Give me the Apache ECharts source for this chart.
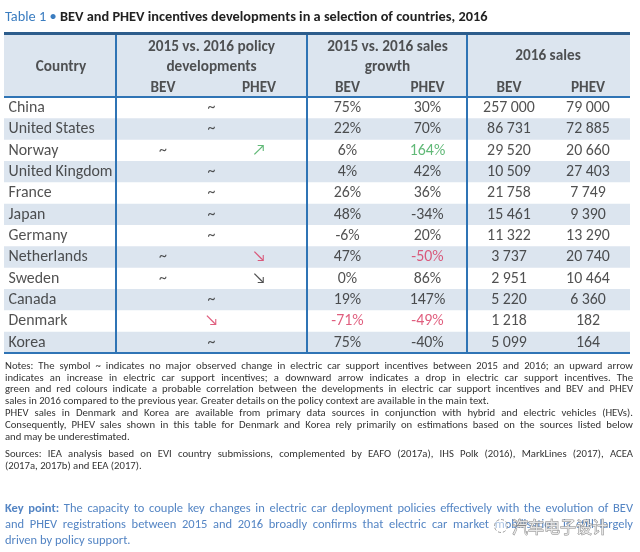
<!DOCTYPE html>
<html><head><meta charset="utf-8">
<script src="https://cdn.jsdelivr.net/npm/echarts@6/dist/echarts.min.js"></script>
<style>html,body{margin:0;padding:0;background:#fff}#c{width:640px;height:552px}</style>
</head><body><div id="c"></div>
<script>
// ---------------- data ----------------
const countries = ['China','United States','Norway','United Kingdom','France','Japan','Germany','Netherlands','Sweden','Canada','Denmark','Korea'];
const policyBEV  = ['~','~','~','~','~','~','~','~','~','~','\u2198','~'];
const policyPHEV = ['~','~','\u2197','~','~','~','~','\u2198','\u2198','~','\u2198','~'];
const growthBEV  = [75,22,6,4,26,48,-6,47,0,19,-71,75];
const growthPHEV = [30,70,164,42,36,-34,20,-50,86,147,-49,-40];
const salesBEV   = [257000,86731,29520,10509,21758,15461,11322,3737,2951,5220,1218,5099];
const salesPHEV  = [79000,72885,20660,27403,7749,9390,13290,20740,10464,6360,182,164];
// probable correlation flags (1 = positive / green, -1 = negative / red)
const corrPolicyBEV  = [0,0,0,0,0,0,0,0,0,0,-1,0];
const corrPolicyPHEV = [0,0,1,0,0,0,0,-1,0,0,-1,0];
const corrGrowthBEV  = [0,0,0,0,0,0,0,0,0,0,-1,0];
const corrGrowthPHEV = [0,0,1,0,0,0,0,-1,0,0,-1,0];
const headCountry = 'Country';
const headPolicy = ['2015 vs. 2016 policy','developments'];
const headGrowth = ['2015 vs. 2016 sales','growth'];
const headSales = '2016 sales';
const subHeads = ['BEV','PHEV'];
const titleLead = 'Table 1 \u2022';
const titleText = 'BEV and PHEV incentives developments in a selection of countries, 2016';
const notesLines = [
 'Notes: The symbol ~ indicates no major observed change in electric car support incentives between 2015 and 2016; an upward arrow',
 'indicates an increase in electric car support incentives; a downward arrow indicates a drop in electric car support incentives. The',
 'green and red colours indicate a probable correlation between the developments in electric car support incentives and BEV and PHEV',
 'sales in 2016 compared to the previous year. Greater details on the policy context are available in the main text.',
 'PHEV sales in Denmark and Korea are available from primary data sources in conjunction with hybrid and electric vehicles (HEVs).',
 'Consequently, PHEV sales shown in this table for Denmark and Korea rely primarily on estimations based on the sources listed below',
 'and may be underestimated.'
];
const notesJustify = [true,true,true,false,true,true,false];
const sourcesLines = [
 'Sources: IEA analysis based on EVI country submissions, complemented by EAFO (2017a), IHS Polk (2016), MarkLines (2017), ACEA',
 '(2017a, 2017b) and EEA (2017).'
];
const sourcesJustify = [true,false];
const keyLines = [
 'Key point: The capacity to couple key changes in electric car deployment policies effectively with the evolution of BEV',
 'and PHEV registrations between 2015 and 2016 broadly confirms that electric car market mobilisation is still largely',
 'driven by policy support.'
];
const keyJustify = [true,true,false];
const watermark = '汽车电子设计';

// ---------------- layout / style ----------------
const FONT = 'Carlito, Lato, "Noto Sans", sans-serif';
const TXT = '#262626', RED = '#d8365e', GREEN = '#3aa755', BLUE = '#5485c4';
const BAND = '#dce5ef', LINE = '#2f74b5', TOPLINE = '#2d5d8c';
const W = 626, HEADROWS = 3, NROWS = HEADROWS + countries.length;
const X = {pBEV:159, pPHEV:255, pMid:207.5, gBEV:343.5, gPHEV:423.5, gMid:383.5, sBEV:505, sPHEV:584, sMid:544, country:57};
const dividers = [112, 302.5, 463];
const rowY = i => HEADROWS + i + 0.52;
const corrColor = f => f > 0 ? GREEN : (f < 0 ? RED : TXT);
const fmtNum = n => String(n).replace(/\B(?=(\d{3})+(?!\d))/g, ' ');

const ctx = document.createElement('canvas').getContext('2d');
const fontStr = (size, bold) => (bold ? 'bold ' : '') + size + 'px ' + FONT;
const measure = (t, size, bold) => { ctx.font = fontStr(size, bold); return ctx.measureText(t).width; };

// table font sizes fitted to reference text widths
const BODYFS = Math.min(16, 14 * 104 / measure('United Kingdom', 14, false));
const HEADFS = Math.min(16, 14 * 127 / measure(headPolicy[0], 14, true));

// ---------------- table series data ----------------
const countryData = countries.map((c, i) => ({value: [0, rowY(i)], name: c}));
const cellData = [];
countries.forEach((c, i) => {
  const y = rowY(i);
  if (policyBEV[i] === policyPHEV[i]) {
    cellData.push({value: [X.pMid, y], name: policyBEV[i], label: {color: corrColor(corrPolicyPHEV[i])}});
  } else {
    cellData.push({value: [X.pBEV, y], name: policyBEV[i], label: {color: corrColor(corrPolicyBEV[i])}});
    cellData.push({value: [X.pPHEV, y], name: policyPHEV[i], label: {color: corrColor(corrPolicyPHEV[i])}});
  }
  cellData.push({value: [X.gBEV, y], name: growthBEV[i] + '%', label: {color: corrColor(corrGrowthBEV[i])}});
  cellData.push({value: [X.gPHEV, y], name: growthPHEV[i] + '%', label: {color: corrColor(corrGrowthPHEV[i])}});
  cellData.push({value: [X.sBEV, y], name: fmtNum(salesBEV[i])});
  cellData.push({value: [X.sPHEV, y], name: fmtNum(salesPHEV[i])});
});
const headData = [
  {value: [X.country, 1.6], name: headCountry},
  {value: [X.pMid, 0.66], name: headPolicy[0]},
  {value: [X.pMid, 1.62], name: headPolicy[1]},
  {value: [X.pBEV, 2.6], name: subHeads[0]},
  {value: [X.pPHEV, 2.6], name: subHeads[1]},
  {value: [X.gMid, 0.66], name: headGrowth[0]},
  {value: [X.gMid, 1.62], name: headGrowth[1]},
  {value: [X.gBEV, 2.6], name: subHeads[0]},
  {value: [X.gPHEV, 2.6], name: subHeads[1]},
  {value: [X.sMid, 1.08], name: headSales},
  {value: [X.sBEV, 2.6], name: subHeads[0]},
  {value: [X.sPHEV, 2.6], name: subHeads[1]}
];
const bandAreas = [[{coord: [0, 0]}, {coord: [W, HEADROWS]}]];
countries.forEach((c, i) => { if (i % 2 === 1) bandAreas.push([{coord: [0, HEADROWS + i]}, {coord: [W, HEADROWS + i + 1]}]); });
const ruleLines = dividers.map(x => [{coord: [x, 0]}, {coord: [x, NROWS]}]);
ruleLines.push([{coord: [0, HEADROWS]}, {coord: [W, HEADROWS]}]);
ruleLines.push([{coord: [0, NROWS]}, {coord: [W, NROWS]}]);
ruleLines.push([{coord: [0, 0], lineStyle: {color: TOPLINE, width: 3}}, {coord: [W, 0]}]);

const textSeries = (data, extra) => ({
  type: 'scatter', data, symbolSize: 1, silent: true, z: 5,
  itemStyle: {color: 'rgba(0,0,0,0)'},
  label: Object.assign({show: true, position: 'inside', formatter: p => p.name, fontFamily: FONT, fontSize: BODYFS, color: TXT}, extra || {})
});

// ---------------- text layout below the table ----------------
const graphics = [];
const SPAN = W + 2;
function layLine(text, y, size, baseSx, justify, color, boldWords) {
  const words = text.split(' ');
  const raw = words.map((w, k) => measure(w, size, k < boldWords));
  const rawSum = raw.reduce((a, b) => a + b, 0);
  const rawSpace = measure(' ', size, false);
  const natural = rawSum + rawSpace * (words.length - 1);
  const sx = justify ? Math.min(baseSx, SPAN / natural) : baseSx;
  const ws = raw.map(v => v * sx);
  const sum = rawSum * sx;
  const gap = justify && words.length > 1 ? (SPAN - sum) / (words.length - 1) : rawSpace * sx;
  let x = 5;
  words.forEach((w, k) => {
    graphics.push({type: 'text', x, y, scaleX: sx, silent: true,
      style: {text: w, font: fontStr(size, k < boldWords), fill: color, align: 'left', verticalAlign: 'middle'}});
    x += ws[k] + gap;
  });
}
const NFS = 11;
const nsx = 484 / measure(notesLines[3], NFS, false);
const KFS = 12.5;
const ksx = Math.min(1, 128 / measure(keyLines[2], KFS, false));
const notesY = [366, 377.8, 389.6, 401.4, 413.2, 425, 436.8];
notesLines.forEach((l, k) => layLine(l, notesY[k], NFS, nsx, notesJustify[k], '#333', 0));
const sourcesY = [454, 466];
sourcesLines.forEach((l, k) => layLine(l, sourcesY[k], NFS, nsx, sourcesJustify[k], '#333', 0));
const keyY = [509, 525, 541];
keyLines.forEach((l, k) => layLine(l, keyY[k], KFS, ksx, keyJustify[k], BLUE, k === 0 ? 2 : 0));
// title fitted to reference width
const tw = measure(titleLead + ' ', 13, false) + measure(titleText, 13, true);
const TFS = 13 * 483 / tw;
graphics.push({type: 'text', x: 5, y: 17, silent: true, style: {
  text: '{a|' + titleLead + '} {b|' + titleText + '}', align: 'left', verticalAlign: 'middle',
  rich: {a: {fontFamily: FONT, fontSize: TFS, fill: '#3b7dc0', color: '#3b7dc0'}, b: {fontFamily: FONT, fontSize: TFS, fontWeight: 'bold', fill: '#222', color: '#222'}}}});
// watermark
graphics.push({type: 'circle', shape: {cx: 501, cy: 526, r: 6.5}, silent: true, style: {fill: 'rgba(255,255,255,0.5)', stroke: '#999', lineWidth: 1, lineDash: [3, 2]}});
graphics.push({type: 'text', x: 512, y: 527, silent: true, style: {text: watermark, font: '16px "Noto Sans CJK SC"', fill: 'rgba(255,255,255,0.75)', stroke: '#8a8a8a', lineWidth: 1, align: 'left', verticalAlign: 'middle'}});

const chart = echarts.init(document.getElementById('c'), null, {renderer: 'canvas'});
chart.setOption({
  animation: false,
  grid: {left: 4, top: 33, width: W, height: 320, containLabel: false},
  xAxis: {type: 'value', min: 0, max: W, show: false},
  yAxis: {type: 'value', min: 0, max: NROWS, inverse: true, show: false},
  series: [
    {type: 'scatter', data: [], silent: true, z: 1,
     markArea: {silent: true, itemStyle: {color: BAND}, data: bandAreas},
     markLine: {silent: true, symbol: 'none', label: {show: false}, lineStyle: {color: LINE, width: 2, type: 'solid'}, data: ruleLines}},
    textSeries(countryData, {position: 'right', distance: 4}),
    textSeries(cellData),
    textSeries(headData, {fontWeight: 'bold', color: '#2a2a2a', fontSize: HEADFS})
  ],
  graphic: graphics
});
</script></body></html>
